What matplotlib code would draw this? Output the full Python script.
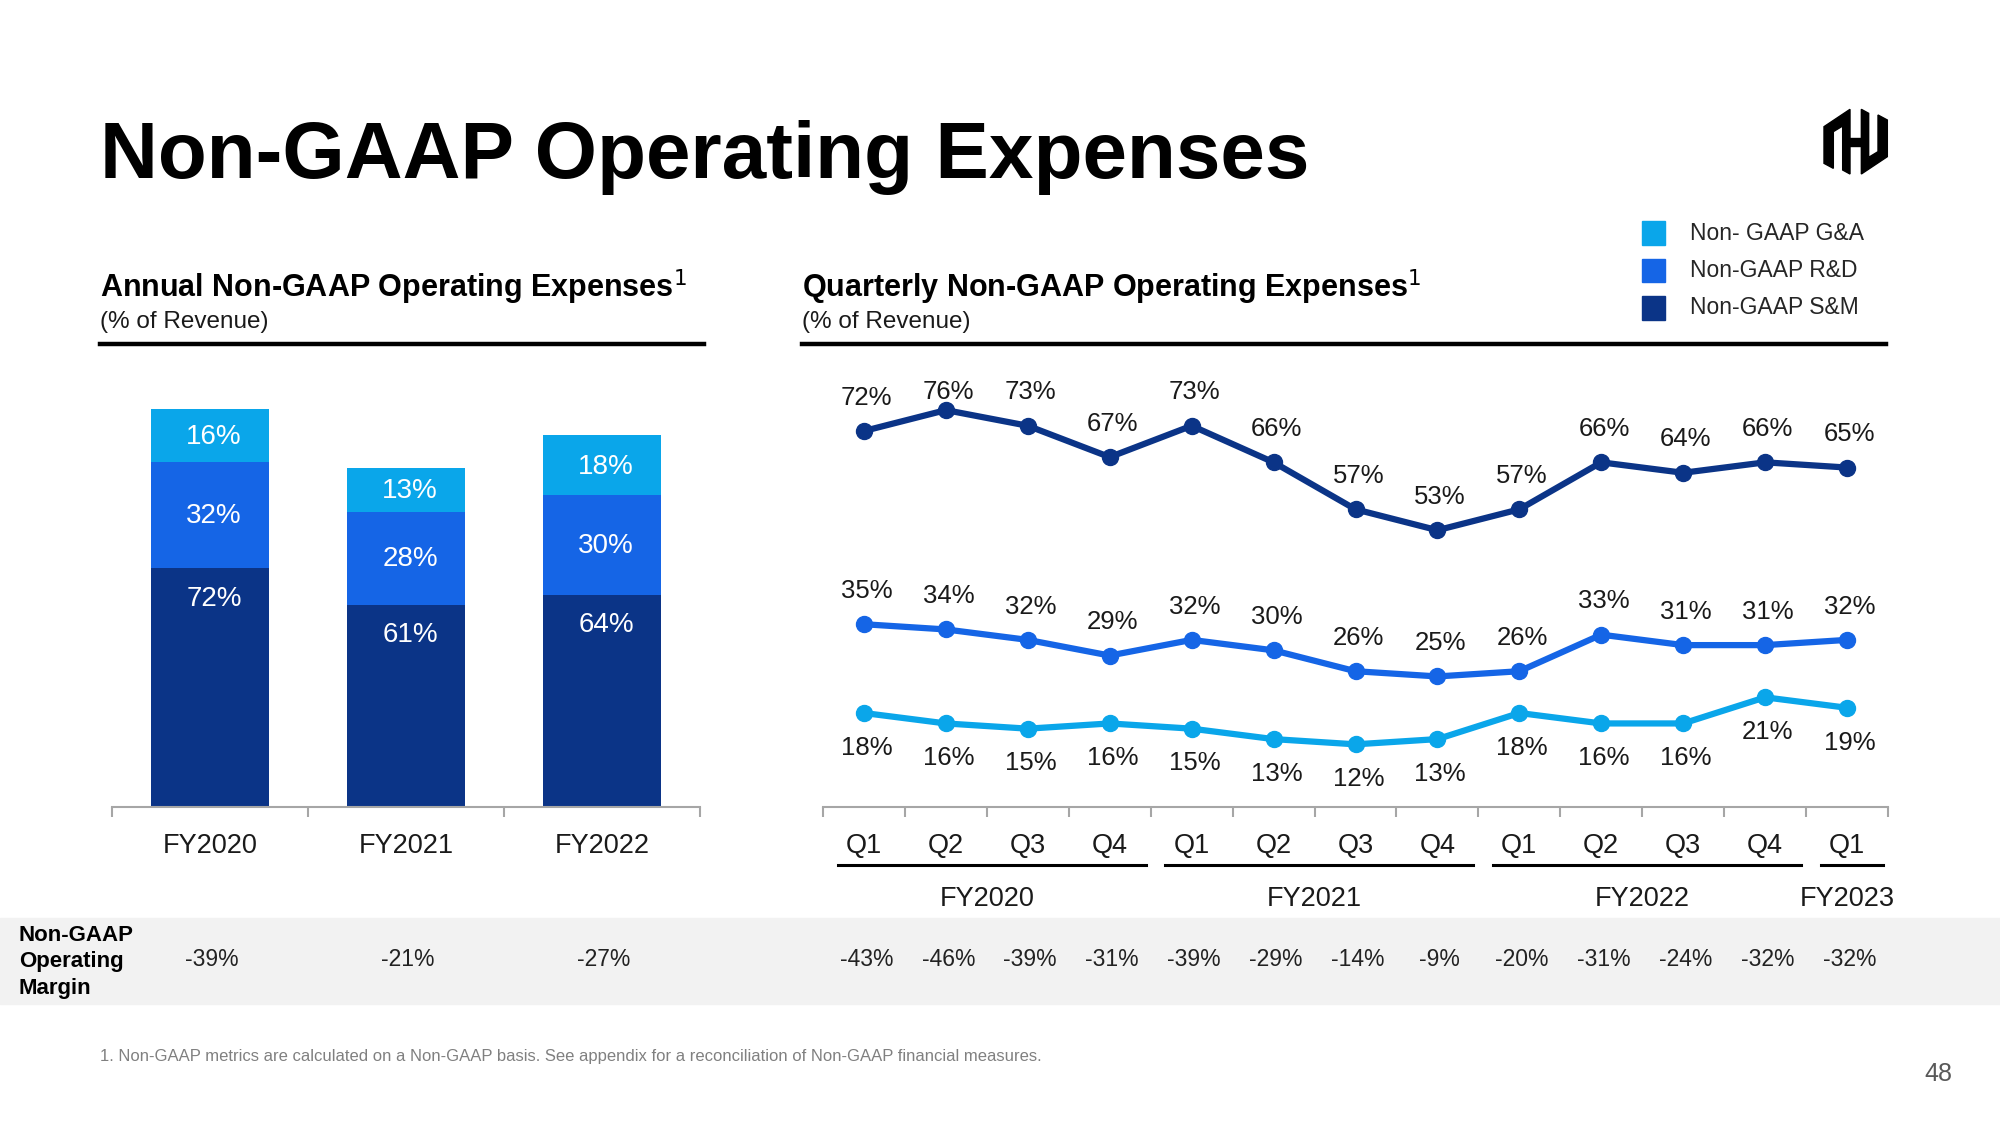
#!/usr/bin/env python
# coding=utf-8
"""
Non-GAAP operating expenses slide: annual stacked bars and quarterly lines
"""

import numpy as np
import matplotlib
matplotlib.use('Agg')
import matplotlib.pyplot as plt
from matplotlib import transforms
from matplotlib.patches import Rectangle, Polygon

plt.rcParams['font.family'] = ['Liberation Sans', 'DejaVu Sans']

#  Annual data (% of revenue)
years = ['FY2020', 'FY2021', 'FY2022']
annual_sm = [72, 61, 64]
annual_rd = [32, 28, 30]
annual_ga = [16, 13, 18]
annual_margin = [-39, -21, -27]

#  Quarterly data (% of revenue)
quarters = ['Q1', 'Q2', 'Q3', 'Q4', 'Q1', 'Q2', 'Q3', 'Q4',
            'Q1', 'Q2', 'Q3', 'Q4', 'Q1']
fiscal_years = ['FY2020', 'FY2021', 'FY2022', 'FY2023']
quarters_per_fy = [4, 4, 4, 1]
q_sm = [72, 76, 73, 67, 73, 66, 57, 53, 57, 66, 64, 66, 65]
q_rd = [35, 34, 32, 29, 32, 30, 26, 25, 26, 33, 31, 31, 32]
q_ga = [18, 16, 15, 16, 15, 13, 12, 13, 18, 16, 16, 21, 19]
q_margin = [-43, -46, -39, -31, -39, -29, -14, -9, -20, -31, -24, -32, -32]

legend_labels = ['Non- GAAP G&A', 'Non-GAAP R&D', 'Non-GAAP S&M']

#  Colors
c_ga = '#0AA6EA'
c_rd = '#1565E6'
c_sm = '#0B3487'
c_axis = '#A6A6A6'
c_text = '#1A1A1A'

W, H = 2000., 1125.


def fx(px):
    return px / W


def fy(py):
    return 1. - py / H


fig = plt.figure(figsize=(20, 11.25), dpi=100)
fig.patch.set_facecolor('white')

#  Title
fig.text(fx(100), fy(178), 'Non-GAAP Operating Expenses', fontsize=57.7,
         fontweight='bold', color='black', va='baseline')

#  Section headers
for x0, x1, head in [(100, 704, 'Annual Non-GAAP Operating Expenses$^{1}$'),
                     (802, 1886, 'Quarterly Non-GAAP Operating Expenses$^{1}$')]:
    fig.text(fx(x0), fy(297), head, fontsize=22, fontweight='bold',
             color='black', va='baseline')
    fig.text(fx(x0), fy(328), '(% of Revenue)', fontsize=17.5,
             color=c_text, va='baseline')
    fig.add_artist(plt.Line2D([fx(x0), fx(x1)], [fy(344), fy(344)],
                              color='black', lw=3.2,
                              transform=fig.transFigure))

#  Legend
for i, (lab, col) in enumerate(zip(legend_labels, [c_ga, c_rd, c_sm])):
    yc = 233 + i * 37.5
    fig.add_artist(Rectangle((fx(1642), fy(yc + 11.5)), 23 / W, 23 / H,
                             color=col, transform=fig.transFigure))
    fig.text(fx(1690), fy(yc), lab, fontsize=16.5, color='#262626',
             va='center')

#  Logo
logo_left = [(672, 190), (672, 80), (750, 28), (750, 222), (728, 210),
             (728, 78), (700, 95), (700, 205)]
logo_right = [(1534 - x, 250 - y) for (x, y) in logo_left]
logo_bar = [(748, 113), (786, 113), (786, 137), (748, 137)]
for shape in [logo_left, logo_right, logo_bar]:
    pts = [(fx(1600 + x / 3.), fy(100 + y / 3.)) for (x, y) in shape]
    fig.add_artist(Polygon(pts, closed=True, color='black',
                           transform=fig.transFigure))

#  Margin band
fig.add_artist(Rectangle((0, fy(1004)), 1, 86 / H, color='#F2F2F2',
                         transform=fig.transFigure, zorder=0))
fig.text(fx(19), fy(962), 'Non-GAAP\nOperating\nMargin', fontsize=16,
         fontweight='bold', color='black', va='center', linespacing=1.35)


def style_axis(ax, n):
    for side in ['top', 'left', 'right']:
        ax.spines[side].set_visible(False)
    ax.spines['bottom'].set_color(c_axis)
    ax.spines['bottom'].set_linewidth(1.5)
    ax.set_xlim(-0.5, n - 0.5)
    ax.set_yticks([])
    ax.set_xticks(np.arange(-0.5, n), minor=True)
    ax.tick_params(axis='x', which='major', length=0, pad=18.5,
                   labelsize=19.5, labelcolor=c_text)
    ax.tick_params(axis='x', which='minor', length=7, width=1.5,
                   color=c_axis)
    ax.patch.set_alpha(0)


#  Annual stacked bars
ax_bar = fig.add_axes([fx(112), fy(807), fx(700) - fx(112), 470 / H])
xb = np.arange(len(years))
sm = np.array(annual_sm)
rd = np.array(annual_rd)
ga = np.array(annual_ga)
ax_bar.bar(xb, sm, width=0.6, color=c_sm)
ax_bar.bar(xb, rd, width=0.6, bottom=sm, color=c_rd)
ax_bar.bar(xb, ga, width=0.6, bottom=sm + rd, color=c_ga)
ax_bar.set_ylim(0, 141.6)
style_axis(ax_bar, len(years))
ax_bar.set_xticks(xb, years)

bar_lab = dict(textcoords='offset points', ha='center', va='center',
               color='white', fontsize=20)
for i in range(len(years)):
    ax_bar.annotate('%d%%' % sm[i], (xb[i], sm[i]), xytext=(3, -22),
                    **bar_lab)
    ax_bar.annotate('%d%%' % rd[i], (xb[i], sm[i] + rd[i] / 2.),
                    xytext=(3, -1), **bar_lab)
    ax_bar.annotate('%d%%' % ga[i], (xb[i], sm[i] + rd[i] + ga[i] / 2.),
                    xytext=(3, -1), **bar_lab)

trans_b = transforms.blended_transform_factory(ax_bar.transData,
                                               fig.transFigure)
for i, m in enumerate(annual_margin):
    fig.text(xb[i] + 0.01, fy(960), '%d%%' % m, transform=trans_b,
             ha='center', va='center', fontsize=16.5, color='#222222')

#  Quarterly lines
ax_line = fig.add_axes([fx(823), fy(807), fx(1888) - fx(823), 470 / H])
xq = np.arange(len(quarters))
line_style = dict(lw=4.5, marker='o', markersize=11.5, solid_joinstyle='round')
ax_line.plot(xq, q_sm, color=c_sm, **line_style)
ax_line.plot(xq, q_rd, color=c_rd, **line_style)
ax_line.plot(xq, q_ga, color=c_ga, **line_style)
ax_line.set_ylim(0, 90)
style_axis(ax_line, len(quarters))
ax_line.set_xticks(xq, quarters)

sm_nudge = {1: 13}
for i in xq:
    ax_line.annotate('%d%%' % q_sm[i], (xq[i], q_sm[i]),
                     xytext=(2, sm_nudge.get(i, 24)),
                     textcoords='offset points', ha='center', va='center',
                     fontsize=18.5, color=c_text)
    ax_line.annotate('%d%%' % q_rd[i], (xq[i], q_rd[i]), xytext=(2, 24),
                     textcoords='offset points', ha='center', va='center',
                     fontsize=18.5, color=c_text)
    ax_line.annotate('%d%%' % q_ga[i], (xq[i], q_ga[i]), xytext=(2, -25),
                     textcoords='offset points', ha='center', va='center',
                     fontsize=18.5, color=c_text)

trans_q = transforms.blended_transform_factory(ax_line.transData,
                                               fig.transFigure)
for i, m in enumerate(q_margin):
    fig.text(xq[i] + 0.03, fy(960), '%d%%' % m, transform=trans_q,
             ha='center', va='center', fontsize=16.5, color='#222222')

#  Fiscal year groups under the quarter labels
start = 0
for fy_lab, n in zip(fiscal_years, quarters_per_fy):
    end = start + n - 1
    fig.add_artist(plt.Line2D([start - 0.32, end + 0.44], [fy(865), fy(865)],
                              color='black', lw=2.2, transform=trans_q))
    fig.text((start + end) / 2., fy(899), fy_lab, transform=trans_q,
             ha='center', va='center', fontsize=19.5, color=c_text)
    start += n

#  Footnote and page number
fig.text(fx(100), fy(1057), '1. Non-GAAP metrics are calculated on a '
         'Non-GAAP basis. See appendix for a reconciliation of Non-GAAP '
         'financial measures.', fontsize=12, color='#808080', va='center')
fig.text(fx(1938), fy(1074), '48', fontsize=18, color='#595959',
         ha='center', va='center')

fig.savefig('out.png', dpi=100)
plt.close(fig)
